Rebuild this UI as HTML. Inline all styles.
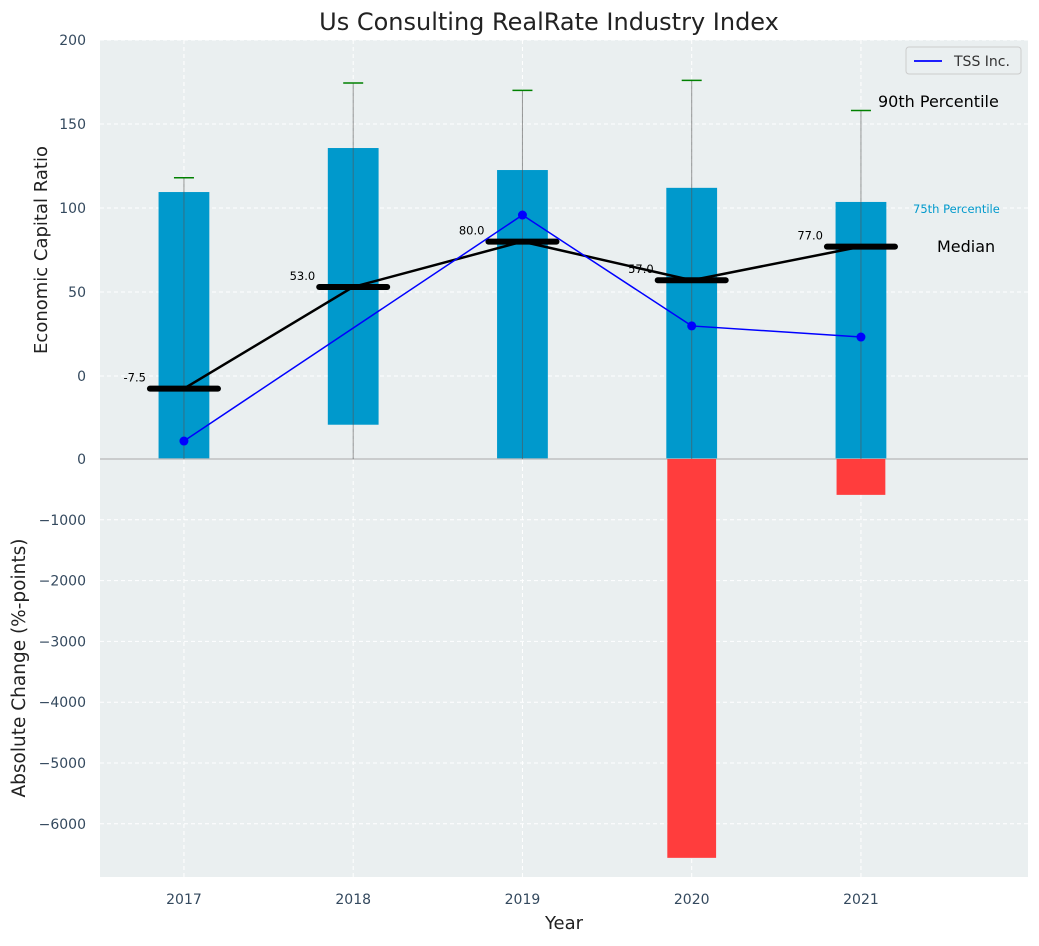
<!DOCTYPE html>
<html><head><meta charset="utf-8"><style>
body{margin:0;background:#fff;font-family:"DejaVu Sans","Liberation Sans",sans-serif}
svg text{font-family:"DejaVu Sans","Liberation Sans",sans-serif}
</style></head><body>
<svg id="chart" width="1039" height="942" xmlns="http://www.w3.org/2000/svg"></svg>
<script>
const years=[2017,2018,2019,2020,2021];
const p75=[109.5,135.7,122.6,112,103.6];
const p25=[-49,-29,-49,-49,-49];
const p90=[118,174.4,170,176,158];
const medians=[-7.5,53,80,57,77];
const tss=[-38.7,null,95.8,29.8,23.2];
const changes=[0,0,0,-6560,-590];
const topTicks=[0,50,100,150,200];
const botTicks=[0,-1000,-2000,-3000,-4000,-5000,-6000];

const NS="http://www.w3.org/2000/svg";
const svg=document.getElementById('chart');
const L=100,R=1028,T=40,MID=459,B=877;
const X0=2016.504,X1=2021.987;
const x=v=>L+(v-X0)/(X1-X0)*(R-L);
const yT=v=>376-v*1.68;
const yB=v=>MID-v*0.0608;
function el(tag,attrs,parent){const e=document.createElementNS(NS,tag);for(const k in attrs)e.setAttribute(k,attrs[k]);(parent||svg).appendChild(e);return e;}
function txt(s,attrs){const e=el('text',attrs);e.textContent=s;return e;}

let bg=el('rect',{x:L,y:T,width:R-L,height:B-T,fill:'#eaeff0'});


topTicks.forEach(t=>{let g=el('line',{x1:L,x2:R,y1:yT(t),y2:yT(t),stroke:'#fff','stroke-dasharray':'4,3','stroke-width':1});


let l=txt(t,{x:86,y:yT(t)+5,'text-anchor':'end','font-size':14,fill:'#34495e'});

});
botTicks.forEach(t=>{let g=el('line',{x1:L,x2:R,y1:yB(t),y2:yB(t),stroke:'#fff','stroke-dasharray':'4,3','stroke-width':1});


let l=txt(String(t).replace('-','\u2212'),{x:86,y:yB(t)+5,'text-anchor':'end','font-size':14,fill:'#34495e'});

});
years.forEach(yr=>{let g=el('line',{x1:x(yr),x2:x(yr),y1:T,y2:B,stroke:'#fff','stroke-dasharray':'4,3','stroke-width':1});


let l=txt(yr,{x:x(yr),y:904,'text-anchor':'middle','font-size':14,fill:'#34495e'});

});
let sep=el('line',{x1:L,x2:R,y1:MID,y2:MID,stroke:'#aaa','stroke-width':1});



const bw=(x(2017.15)-x(2016.85));
years.forEach((yr,i)=>{
 let b=el('rect',{x:x(yr)-bw/2,y:yT(p75[i]),width:bw,height:yT(p25[i])-yT(p75[i]),fill:'#0099cc'});
 
 
 let w=el('line',{x1:x(yr),x2:x(yr),y1:MID,y2:yT(p90[i]),stroke:'#555','stroke-opacity':0.6,'stroke-width':1});
 
 
 let c=el('line',{x1:x(yr)-10,x2:x(yr)+10,y1:yT(p90[i]),y2:yT(p90[i]),stroke:'green','stroke-width':1.5});
 
 
 if(changes[i]!==0){let r=el('rect',{x:x(yr)-bw/2+1,y:MID,width:bw-2,height:yB(changes[i])-MID,fill:'#ff3d3d'});
 
 }
});
let mp=el('polyline',{points:years.map((yr,i)=>x(yr)+','+yT(medians[i])).join(' '),fill:'none',stroke:'#000','stroke-width':2.5});


years.forEach((yr,i)=>{
 let m=el('line',{x1:x(yr)-34,x2:x(yr)+34,y1:yT(medians[i]),y2:yT(medians[i]),stroke:'#000','stroke-width':6,'stroke-linecap':'round'});
 
 
 let l=txt(medians[i].toFixed(1),{x:x(yr)-38,y:yT(medians[i])-7,'text-anchor':'end','font-size':11.5,fill:'#000'});
 
 
});
const pts=years.map((yr,i)=>tss[i]==null?null:[x(yr),yT(tss[i])]).filter(p=>p);
let tl=el('polyline',{points:pts.map(p=>p.join(',')).join(' '),fill:'none',stroke:'blue','stroke-width':1.5});


pts.forEach(p=>{let c=el('circle',{cx:p[0],cy:p[1],r:4.5,fill:'blue'});

});
let a1=txt('90th Percentile',{x:878,y:107,'font-size':16,fill:'#000'});


let a2=txt('75th Percentile',{x:913,y:213,'font-size':11.5,fill:'#0099cc'});


let a3=txt('Median',{x:937,y:252,'font-size':16,fill:'#000'});


let lg=el('rect',{x:906,y:47,width:115,height:27,rx:3,fill:'#eaeff0',stroke:'#ccc'});


let ll=el('line',{x1:914,x2:942,y1:61,y2:61,stroke:'blue','stroke-width':1.8});


let lt=txt('TSS Inc.',{x:954,y:66,'font-size':14,fill:'#333'});


let tt=txt('Us Consulting RealRate Industry Index',{x:549,y:30,'text-anchor':'middle','font-size':24,fill:'#222'});


let xt=txt('Year',{x:564,y:929,'text-anchor':'middle','font-size':18,fill:'#222'});


let y1=txt('Economic Capital Ratio',{x:0,y:0,'text-anchor':'middle','font-size':18,fill:'#222',transform:'translate(47,250) rotate(-90)'});


let y2=txt('Absolute Change (%-points)',{x:0,y:0,'text-anchor':'middle','font-size':18.5,fill:'#222',transform:'translate(25,668) rotate(-90)'});


</script>
</body></html>
